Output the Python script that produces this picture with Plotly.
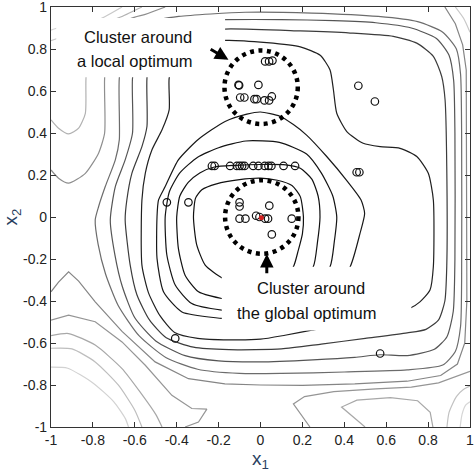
"""
Sample clusters on a contour map: a local and the global optimum.
"""

import plotly.graph_objects as go

# contour lines as (x1, x2) pairs, innermost first
contour_a = [(-0.185, -0.289), (-0.264, -0.229), (-0.305, -0.13), (-0.32, 0.0), (-0.31, 0.09),
             (-0.28, 0.13), (-0.21, 0.158), (-0.10, 0.178), (0.0, 0.185), (0.08, 0.175),
             (0.15, 0.15), (0.19, 0.097), (0.205, 0.0), (0.20, -0.08), (0.18, -0.16),
             (0.157, -0.237), (0.10, -0.30), (0.0, -0.32), (-0.12, -0.31), (-0.185, -0.289)]
contour_b = [(-0.185, -0.388), (-0.296, -0.356), (-0.36, -0.277), (-0.392, -0.149), (-0.40, 0.0),
             (-0.385, 0.10), (-0.345, 0.165), (-0.29, 0.21), (-0.22, 0.238), (-0.12, 0.246),
             (0.0, 0.25), (0.12, 0.248), (0.19, 0.232), (0.245, 0.18), (0.275, 0.10),
             (0.284, 0.0), (0.272, -0.12), (0.252, -0.237), (0.15, -0.36), (0.0, -0.40),
             (-0.185, -0.388)]
contour_c = [(-0.185, -0.443), (-0.328, -0.412), (-0.407, -0.324), (-0.447, -0.181), (-0.455, 0.0),
             (-0.435, 0.12), (-0.385, 0.21), (-0.30, 0.285), (-0.20, 0.33), (-0.07, 0.362),
             (0.09, 0.355), (0.22, 0.30), (0.29, 0.21), (0.345, 0.10), (0.364, 0.0),
             (0.352, -0.12), (0.332, -0.237), (0.2, -0.40), (0.0, -0.45), (-0.185, -0.443)]
contour_d = [(-0.185, -0.483), (-0.375, -0.452), (-0.463, -0.356), (-0.494, -0.197), (-0.494, 0.0),
             (-0.487, 0.08), (-0.455, 0.145), (-0.392, 0.272), (-0.296, 0.37), (-0.169, 0.455),
             (-0.065, 0.49), (0.0, 0.50), (0.093, 0.48), (0.157, 0.44), (0.22, 0.39),
             (0.316, 0.288), (0.41, 0.176), (0.48, 0.081), (0.497, 0.017), (0.475, -0.078),
             (0.428, -0.237), (0.3, -0.42), (0.0, -0.50), (-0.185, -0.483)]
contour_e = [(0.0, -0.582), (0.117, -0.563), (0.245, -0.539), (0.45, -0.50), (0.62, -0.46),
             (0.711, -0.436), (0.761, -0.404), (0.809, -0.348), (0.825, -0.237), (0.825, 0.081),
             (0.801, 0.208), (0.746, 0.288), (0.666, 0.327), (0.571, 0.335), (0.49, 0.351),
             (0.412, 0.407), (0.364, 0.494), (0.348, 0.606), (0.332, 0.70), (0.285, 0.77),
             (0.19, 0.81), (0.03, 0.83), (-0.169, 0.841), (-0.33, 0.81), (-0.41, 0.74),
             (-0.436, 0.661), (-0.436, 0.51), (-0.47, 0.415), (-0.518, 0.32), (-0.55, 0.208),
             (-0.566, 0.081), (-0.566, -0.229), (-0.535, -0.36), (-0.48, -0.47), (-0.41, -0.55),
             (-0.30, -0.578), (-0.15, -0.585), (0.0, -0.582)]
contour_f = [(-0.169, 0.895), (0.19, 0.886), (0.428, 0.876), (0.634, 0.86), (0.746, 0.828),
             (0.825, 0.765), (0.865, 0.669), (0.881, 0.558), (0.889, 0.24), (0.889, -0.237),
             (0.88, -0.40), (0.85, -0.49), (0.79, -0.535), (0.70, -0.552), (0.50, -0.578),
             (0.29, -0.605), (0.1, -0.628), (-0.15, -0.632), (-0.32, -0.62), (-0.45, -0.575),
             (-0.53, -0.49), (-0.59, -0.37), (-0.622, -0.229), (-0.646, -0.014), (-0.638, 0.081),
             (-0.614, 0.208), (-0.566, 0.335), (-0.542, 0.431), (-0.542, 0.661), (-0.52, 0.79),
             (-0.40, 0.87), (-0.169, 0.895)]
contour_g = [(-0.169, 0.94), (0.1, 0.94), (0.35, 0.935), (0.55, 0.925), (0.72, 0.90),
             (0.84, 0.85), (0.9, 0.77), (0.922, 0.65), (0.928, 0.40), (0.928, -0.2),
             (0.92, -0.45), (0.89, -0.57), (0.83, -0.63), (0.70, -0.66), (0.57, -0.656),
             (0.45, -0.668), (0.25, -0.68), (0.0, -0.69), (-0.2, -0.685), (-0.36, -0.66),
             (-0.50, -0.59), (-0.60, -0.48), (-0.66, -0.33), (-0.695, -0.18), (-0.717, -0.014),
             (-0.693, 0.145), (-0.646, 0.272), (-0.611, 0.40), (-0.611, 0.661), (-0.58, 0.83),
             (-0.45, 0.915), (-0.3, 0.937), (-0.169, 0.94)]
contour_h = [(-0.39, 0.955), (-0.073, 0.975), (0.245, 0.971), (0.562, 0.955), (0.75, 0.93),
             (0.87, 0.88), (0.935, 0.80), (0.955, 0.68), (0.96, 0.40), (0.96, -0.3),
             (0.955, -0.52), (0.93, -0.64), (0.87, -0.705), (0.70, -0.728), (0.4, -0.738),
             (0.1, -0.745), (-0.1, -0.745), (-0.3, -0.725), (-0.45, -0.67), (-0.58, -0.565),
             (-0.68, -0.42), (-0.74, -0.27), (-0.775, -0.13), (-0.789, -0.014), (-0.773, 0.049),
             (-0.741, 0.145), (-0.693, 0.272), (-0.674, 0.367), (-0.674, 0.661), (-0.64, 0.84),
             (-0.52, 0.93), (-0.39, 0.955)]
contour_peak = [(-1.0, -0.356), (-0.964, -0.31), (-0.916, -0.261), (-0.868, -0.305), (-0.789, -0.404),
                (-0.661, -0.545), (-0.503, -0.69), (-0.344, -0.77), (-0.17, -0.795), (0.0, -0.80),
                (0.2, -0.802), (0.45, -0.795), (0.7, -0.782), (0.86, -0.755), (0.94, -0.70),
                (0.975, -0.60), (0.985, -0.4), (0.985, 0.5), (0.982, 0.70), (0.965, 0.82),
                (0.93, 0.92), (0.88, 1.0)]
contour_u2 = [(-1.0, 0.224), (-0.964, 0.185), (-0.916, 0.161), (-0.836, 0.208), (-0.773, 0.304),
              (-0.744, 0.40), (-0.744, 0.661), (-0.72, 0.85), (-0.62, 0.945), (-0.55, 0.965),
              (-0.455, 1.0)]
contour_u1 = [(-1.0, 0.463), (-0.964, 0.423), (-0.916, 0.396), (-0.868, 0.423), (-0.836, 0.494),
              (-0.833, 0.661), (-0.81, 0.85), (-0.72, 0.93), (-0.661, 0.955), (-0.566, 1.0)]
contour_tl1 = [(-1.0, 0.84), (-0.97, 0.85), (-0.9, 0.89), (-0.80, 0.93), (-0.741, 0.955), (-0.661, 1.0)]
contour_tl2 = [(-1.0, 0.89), (-0.97, 0.90), (-0.93, 0.915)]
contour_tr = [(0.93, 1.0), (0.97, 0.945), (1.0, 0.88)]
spike_left = [(-1.0, -0.491), (-0.916, -0.467), (-0.789, -0.499), (-0.661, -0.595), (-0.55, -0.706),
              (-0.423, -0.849), (-0.328, -0.912), (-0.256, -0.915), (-0.296, -0.976), (-0.36, -1.0)]
corner_bl1 = [(-1.0, -0.565), (-0.916, -0.555), (-0.789, -0.61), (-0.661, -0.722), (-0.57, -0.84),
              (-0.50, -0.94), (-0.47, -1.0)]
corner_bl2 = [(-1.0, -0.625), (-0.9, -0.628), (-0.789, -0.69), (-0.678, -0.801), (-0.60, -0.92),
              (-0.566, -1.0)]
corner_bl3 = [(-1.0, -0.715), (-0.92, -0.72), (-0.80, -0.79), (-0.70, -0.88), (-0.645, -0.96),
              (-0.63, -1.0)]
spike_mid = [(0.236, -1.0), (0.195, -0.945), (0.157, -0.89), (0.21, -0.855), (0.35, -0.832),
             (0.55, -0.818), (0.72, -0.81), (0.85, -0.79), (0.93, -0.76), (1.0, -0.735)]
spike_right = [(0.499, -1.0), (0.44, -0.95), (0.387, -0.905), (0.46, -0.872), (0.62, -0.86),
               (0.75, -0.875), (0.81, -0.93), (0.823, -1.0)]
corner_br1 = [(0.89, -1.0), (0.90, -0.93), (0.935, -0.855), (0.97, -0.82), (1.0, -0.805)]
corner_br2 = [(0.953, -1.0), (0.962, -0.94), (0.98, -0.895), (1.0, -0.88)]

# sampled points (open circles)
sample_x1 = [0.022, 0.041, 0.057, -0.105, -0.102, -0.01, -0.097, -0.077, -0.029, -0.018, 0.019,
             0.041, 0.054, 0.467, 0.546,
             -0.232, -0.219, -0.145, -0.113, -0.10, -0.088, -0.076, -0.035, -0.01, 0.02, 0.038,
             0.052, 0.11, 0.165,
             0.459, 0.472, -0.447, -0.344,
             -0.10, -0.10, 0.042, -0.10, -0.072, -0.021, -0.005, 0.022, 0.036, 0.149, 0.054,
             -0.407, 0.571]
sample_x2 = [0.741, 0.741, 0.745, 0.629, 0.627, 0.629, 0.569, 0.569, 0.561, 0.561, 0.555,
             0.555, 0.574, 0.625, 0.55,
             0.243, 0.243, 0.243, 0.243, 0.243, 0.243, 0.243, 0.243, 0.243, 0.243, 0.243,
             0.243, 0.243, 0.243,
             0.213, 0.213, 0.07, 0.07,
             0.07, 0.05, 0.054, -0.008, -0.008, 0.006, 0.0, -0.008, -0.008, -0.008, -0.083,
             -0.578, -0.65]
best_x1 = [0.004]
best_x2 = [-0.004]

# dashed rings around the two clusters: centre x1, centre x2, radius
ring_local = (0.003, 0.618, 0.175)
ring_global = (0.006, 0.0, 0.175)

tick_vals = [-1, -0.8, -0.6, -0.4, -0.2, 0, 0.2, 0.4, 0.6, 0.8, 1]
tick_text = ['-1', '-0.8', '-0.6', '-0.4', '-0.2', '0', '0.2', '0.4', '0.6', '0.8', '1']


def create_cluster_figure() -> go.Figure:
    """Contour map with sample points and the two highlighted clusters."""
    fig = go.Figure()

    # (points, colour, smooth)
    lines = [
        (contour_a, '#111111', True), (contour_b, '#111111', True),
        (contour_c, '#141414', True), (contour_d, '#181818', True),
        (contour_e, '#202020', True), (contour_f, '#3c3c3c', True),
        (contour_g, '#555555', True), (contour_h, '#6c6c6c', True),
        (contour_peak, '#858585', False), (contour_u2, '#8e8e8e', True),
        (contour_u1, '#b2b2b2', True), (contour_tl1, '#c8c8c8', True),
        (contour_tl2, '#d4d4d4', True), (contour_tr, '#c8c8c8', True),
        (spike_left, '#959595', False), (corner_bl1, '#a8a8a8', True),
        (corner_bl2, '#bebebe', True), (corner_bl3, '#d2d2d2', True),
        (spike_mid, '#959595', False), (spike_right, '#a8a8a8', False),
        (corner_br1, '#c2c2c2', True), (corner_br2, '#d6d6d6', True),
    ]
    for pts, color, smooth in lines:
        fig.add_trace(go.Scatter(
            x=[p[0] for p in pts],
            y=[p[1] for p in pts],
            mode='lines',
            line=dict(color=color, width=1.2,
                      shape='spline' if smooth else 'linear', smoothing=0.6),
            hoverinfo='skip',
            showlegend=False
        ))

    fig.add_trace(go.Scatter(
        x=sample_x1, y=sample_x2,
        mode='markers',
        marker=dict(symbol='circle-open', size=7.5, color='#111111',
                    line=dict(width=1.2)),
        showlegend=False
    ))
    fig.add_trace(go.Scatter(
        x=best_x1, y=best_x2,
        mode='markers',
        marker=dict(symbol='circle', size=5, color='#d42020'),
        showlegend=False
    ))

    # white boxes behind the two labels
    for x0, x1, y0, y1 in [(-0.975, -0.169, 0.666, 0.948), (-0.185, 0.72, -0.54, -0.237)]:
        fig.add_shape(type='rect', x0=x0, x1=x1, y0=y0, y1=y1,
                      fillcolor='white', line=dict(width=0), layer='above')

    for cx, cy, r in [ring_local, ring_global]:
        fig.add_shape(type='circle', x0=cx - r, x1=cx + r, y0=cy - r, y1=cy + r,
                      line=dict(color='black', width=4.5, dash='4px,4.5px'),
                      layer='above')

    label_font = dict(family='Liberation Sans, Arial', size=16.5, color='#111111')
    for text, x, y in [('Cluster around', -0.583, 0.857), ('a local optimum', -0.598, 0.741),
                       ('Cluster around', 0.24, -0.337), ('the global optimum', 0.221, -0.455)]:
        fig.add_annotation(x=x, y=y, text=text, showarrow=False, font=label_font)

    # arrows: head at (x, y), tail at (ax, ay)
    for x, y, ax, ay in [(-0.153, 0.749, -0.245, 0.803), (0.03, -0.176, 0.03, -0.275)]:
        fig.add_annotation(x=x, y=y, ax=ax, ay=ay, axref='x', ayref='y', text='',
                           showarrow=True, arrowhead=2, arrowsize=0.9, arrowwidth=3,
                           arrowcolor='black', standoff=0)

    axis_style = dict(
        range=[-1, 1],
        tickvals=tick_vals,
        ticktext=tick_text,
        ticks='inside',
        ticklen=5,
        tickcolor='#333333',
        showline=True,
        linecolor='#333333',
        linewidth=1.2,
        mirror='ticks',
        showgrid=False,
        zeroline=False,
        automargin=False,
        ticklabeloverflow='allow',
        tickfont=dict(family='Liberation Sans, Arial', size=14, color='#222222'),
    )
    fig.update_xaxes(**axis_style,
                     title=dict(text='x<sub>1</sub>', standoff=2,
                                font=dict(family='Liberation Sans, Arial', size=19)))
    fig.update_yaxes(**axis_style,
                     title=dict(text='x<sub>2</sub>', standoff=2,
                                font=dict(family='Liberation Sans, Arial', size=19)))

    fig.update_layout(
        width=474,
        height=473,
        margin=dict(l=51, r=4, t=7, b=46),
        plot_bgcolor='white',
        paper_bgcolor='white',
        showlegend=False
    )
    return fig


fig = create_cluster_figure()
# the page's default body margin would push the chart 8px off the window
fig.write_html("out.html", config={'displayModeBar': False},
               post_script="document.body.style.margin = '0';")
